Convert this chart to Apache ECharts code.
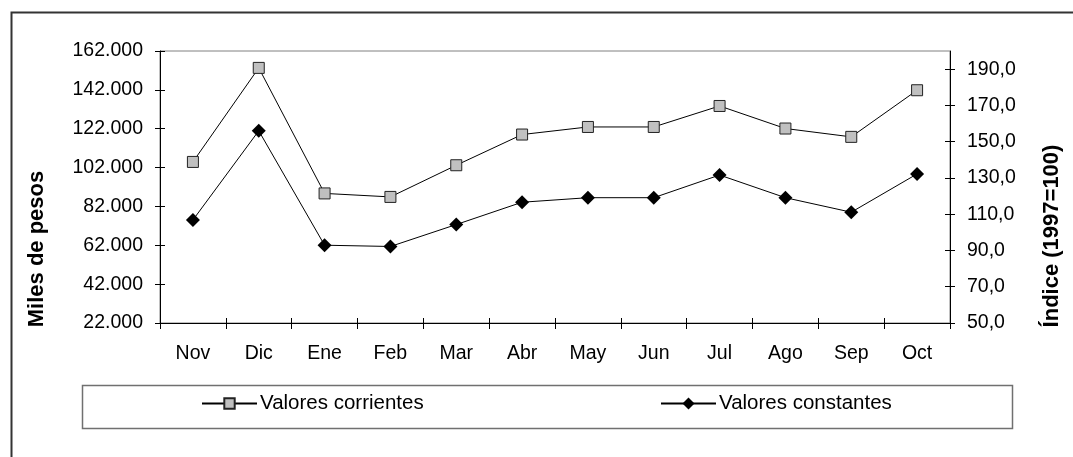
<!DOCTYPE html>
<html>
<head>
<meta charset="utf-8">
<script src="https://cdn.jsdelivr.net/npm/echarts@6/dist/echarts.min.js"></script>
<style>
html,body{margin:0;padding:0;background:#fff;}
#c{width:1073px;height:457px;}
</style>
</head>
<body>
<div id="c"></div>
<script>
const categories = ['Nov','Dic','Ene','Feb','Mar','Abr','May','Jun','Jul','Ago','Sep','Oct'];
const corrientes = [104900, 153300, 88700, 86900, 103200, 119000, 122900, 122900, 133700, 122100, 117800, 141800];
const constantes = [106.8, 156.0, 92.9, 92.2, 104.3, 116.6, 119.1, 119.1, 131.6, 119.1, 111.1, 132.2];
const leftTicks = [22000, 42000, 62000, 82000, 102000, 122000, 142000, 162000];
const rightTicks = [50, 70, 90, 110, 130, 150, 170, 190];
const rightMax = 200;
const leftTitle = 'Miles de pesos';
const rightTitle = 'Índice (1997=100)';

const FONT = "'Liberation Sans', Arial, sans-serif";
const fmtLeft = v => String(v).replace(/\B(?=(\d{3})+(?!\d))/g, '.');
const fmtRight = v => v.toFixed(1).replace('.', ',');

const chart = echarts.init(document.getElementById('c'), null, {renderer: 'canvas'});

const leftBase = {
  type: 'value', min: leftTicks[0], max: leftTicks[leftTicks.length - 1],
  interval: leftTicks[1] - leftTicks[0], position: 'left', splitLine: {show: false}
};
const rightBase = {
  type: 'value', min: rightTicks[0], max: rightMax,
  interval: rightTicks[1] - rightTicks[0], position: 'right', splitLine: {show: false}
};

const option = {
  backgroundColor: '#fff',
  animation: false,
  textStyle: {fontFamily: FONT},
  grid: {left: 160, right: 123, top: 51, bottom: 134, show: true, borderColor: '#808080', borderWidth: 1},
  xAxis: [
    {
      type: 'category', data: categories, boundaryGap: true, position: 'bottom',
      axisLine: {lineStyle: {color: '#000', width: 1}},
      axisTick: {show: true, length: 6, lineStyle: {color: '#000'}},
      axisLabel: {color: '#000', fontSize: 19.5, fontFamily: FONT, margin: 21}
    },
    {
      type: 'category', data: categories, boundaryGap: true, position: 'bottom',
      axisLine: {show: false},
      axisTick: {show: true, inside: true, length: 5, lineStyle: {color: '#000'}},
      axisLabel: {show: false}
    }
  ],
  yAxis: [
    Object.assign({}, leftBase, {
      axisLine: {show: true, lineStyle: {color: '#000', width: 1}},
      axisTick: {show: true, length: 5, lineStyle: {color: '#000'}},
      axisLabel: {color: '#000', fontSize: 19.5, fontFamily: FONT, margin: 17, formatter: fmtLeft}
    }),
    Object.assign({}, rightBase, {
      axisLine: {show: true, lineStyle: {color: '#000', width: 1}},
      axisTick: {show: true, length: 5, customValues: rightTicks, lineStyle: {color: '#000'}},
      axisLabel: {color: '#000', fontSize: 19.5, fontFamily: FONT, margin: 17, customValues: rightTicks, formatter: fmtRight}
    }),
    Object.assign({}, leftBase, {
      axisLine: {show: false},
      axisTick: {show: true, inside: true, length: 5, lineStyle: {color: '#000'}},
      axisLabel: {show: false}
    }),
    Object.assign({}, rightBase, {
      axisLine: {show: false},
      axisTick: {show: true, inside: true, length: 5, customValues: rightTicks, lineStyle: {color: '#000'}},
      axisLabel: {show: false, customValues: rightTicks}
    })
  ],
  legend: [
    {
      data: ['Valores corrientes'], left: 201, top: 393, itemWidth: 55, itemHeight: 13, itemGap: 0,
      padding: 0, textStyle: {color: '#000', fontSize: 20.5, fontFamily: FONT, padding: [0, 0, 0, -2]}
    },
    {
      data: ['Valores constantes'], left: 660, top: 393, itemWidth: 55, itemHeight: 15, itemGap: 0,
      padding: 0, textStyle: {color: '#000', fontSize: 20.5, fontFamily: FONT, padding: [0, 0, 0, -2]}
    }
  ],
  graphic: [
    {type: 'rect', left: 9, top: 10, z: 100, silent: true,
     shape: {x: 0, y: 0, width: 1200, height: 600},
     style: {fill: 'none', stroke: '#333', lineWidth: 2}},
    {type: 'rect', left: 80, top: 383, z: 100, silent: true,
     shape: {x: 0, y: 0, width: 930, height: 43},
     style: {fill: 'none', stroke: '#707070', lineWidth: 1.5}},
    {type: 'text', x: 37, y: 249, rotation: Math.PI / 2, silent: true,
     style: {text: leftTitle, align: 'center', verticalAlign: 'middle', fill: '#000',
             font: "bold 22px 'Liberation Sans', Arial, sans-serif"}},
    {type: 'text', x: 1052, y: 236, rotation: Math.PI / 2, silent: true,
     style: {text: rightTitle, align: 'center', verticalAlign: 'middle', fill: '#000',
             font: "bold 22px 'Liberation Sans', Arial, sans-serif"}}
  ],
  series: [
    {
      name: 'Valores corrientes', type: 'line', xAxisIndex: 0, yAxisIndex: 0, data: corrientes,
      symbol: 'rect', symbolSize: 11, showAllSymbol: true,
      lineStyle: {color: '#000', width: 1},
      itemStyle: {color: '#c0c0c0', borderColor: '#222', borderWidth: 1}
    },
    {
      name: 'Valores constantes', type: 'line', xAxisIndex: 0, yAxisIndex: 1, data: constantes,
      symbol: 'diamond', symbolSize: 14, showAllSymbol: true,
      lineStyle: {color: '#000', width: 1},
      itemStyle: {color: '#000', borderColor: '#000', borderWidth: 0}
    }
  ]
};
chart.setOption(option);
</script>
</body>
</html>
